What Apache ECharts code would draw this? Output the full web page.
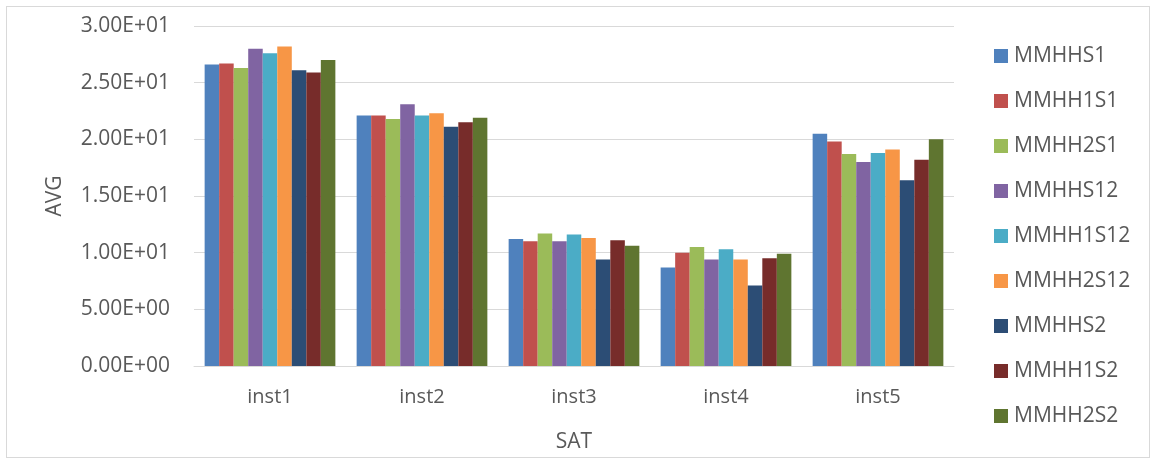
<!DOCTYPE html>
<html>
<head>
<meta charset="utf-8">
<script src="https://cdn.jsdelivr.net/npm/echarts@6/dist/echarts.min.js"></script>
<style>
html,body{margin:0;padding:0;background:#fff;}
#frame{position:absolute;left:6px;top:6px;width:1144px;height:452px;border:1px solid #d9d9d9;box-sizing:border-box;}
#chart{position:absolute;left:0;top:0;width:1152px;height:460px;}
</style>
</head>
<body>
<div id="frame"></div>
<div id="chart"></div>
<script>
const categories = ['inst1', 'inst2', 'inst3', 'inst4', 'inst5'];
const seriesNames = ['MMHHS1', 'MMHH1S1', 'MMHH2S1', 'MMHHS12', 'MMHH1S12', 'MMHH2S12', 'MMHHS2', 'MMHH1S2', 'MMHH2S2'];
const MMHHS1   = [26.6, 22.1, 11.2, 8.7, 20.5];
const MMHH1S1  = [26.7, 22.1, 11.0, 10.0, 19.8];
const MMHH2S1  = [26.3, 21.8, 11.7, 10.5, 18.7];
const MMHHS12  = [28.0, 23.1, 11.0, 9.4, 18.0];
const MMHH1S12 = [27.6, 22.1, 11.6, 10.3, 18.8];
const MMHH2S12 = [28.2, 22.3, 11.3, 9.4, 19.1];
const MMHHS2   = [26.1, 21.1, 9.4, 7.1, 16.4];
const MMHH1S2  = [25.9, 21.5, 11.1, 9.5, 18.2];
const MMHH2S2  = [27.0, 21.9, 10.6, 9.9, 20.0];
const yTickValues = [0, 5, 10, 15, 20, 25, 30];
const yTickLabels = ['0.00E+00', '5.00E+00', '1.00E+01', '1.50E+01', '2.00E+01', '2.50E+01', '3.00E+01'];
const colors = ['#4F81BD', '#C0504D', '#9BBB59', '#8064A2', '#4BACC6', '#F79646', '#2C4D75', '#772C2A', '#5F7530'];

const values = [MMHHS1, MMHH1S1, MMHH2S1, MMHHS12, MMHH1S12, MMHH2S12, MMHHS2, MMHH1S2, MMHH2S2];
const FONT = 'Open Sans';
const chart = echarts.init(document.getElementById('chart'), null, {renderer: 'canvas'});
chart.setOption({
  animation: false,
  color: colors,
  grid: {left: 194, right: 198, top: 26, bottom: 94, containLabel: false},
  legend: {
    orient: 'vertical',
    left: 989,
    top: 37,
    itemWidth: 14,
    itemHeight: 14,
    itemGap: 17,
    icon: 'rect',
    textStyle: {color: '#595959', fontSize: 21, fontFamily: FONT, lineHeight: 28, padding: [0, 0, 0, 1]},
    data: seriesNames
  },
  xAxis: {
    type: 'category',
    data: categories,
    name: 'SAT',
    nameLocation: 'middle',
    nameGap: 66,
    nameTextStyle: {color: '#595959', fontSize: 21, fontFamily: FONT},
    axisLine: {lineStyle: {color: '#d9d9d9'}},
    axisTick: {show: false},
    axisLabel: {color: '#595959', fontSize: 20, fontFamily: FONT, margin: 21}
  },
  yAxis: {
    type: 'value',
    min: 0,
    max: 30,
    interval: 5,
    name: 'AVG',
    nameLocation: 'middle',
    nameGap: 128,
    nameTextStyle: {color: '#595959', fontSize: 21, fontFamily: FONT},
    axisLine: {show: false},
    axisTick: {show: false},
    splitLine: {lineStyle: {color: '#d9d9d9', width: 1}},
    axisLabel: {
      color: '#595959', fontSize: 21, fontFamily: FONT, margin: 24,
      formatter: function (v) {
        const i = yTickValues.indexOf(v);
        return i >= 0 ? yTickLabels[i] : '';
      }
    }
  },
  series: seriesNames.map((n, i) => ({
    name: n,
    type: 'bar',
    data: values[i],
    barGap: '0%',
    barCategoryGap: '14%'
  }))
});
</script>
</body>
</html>
